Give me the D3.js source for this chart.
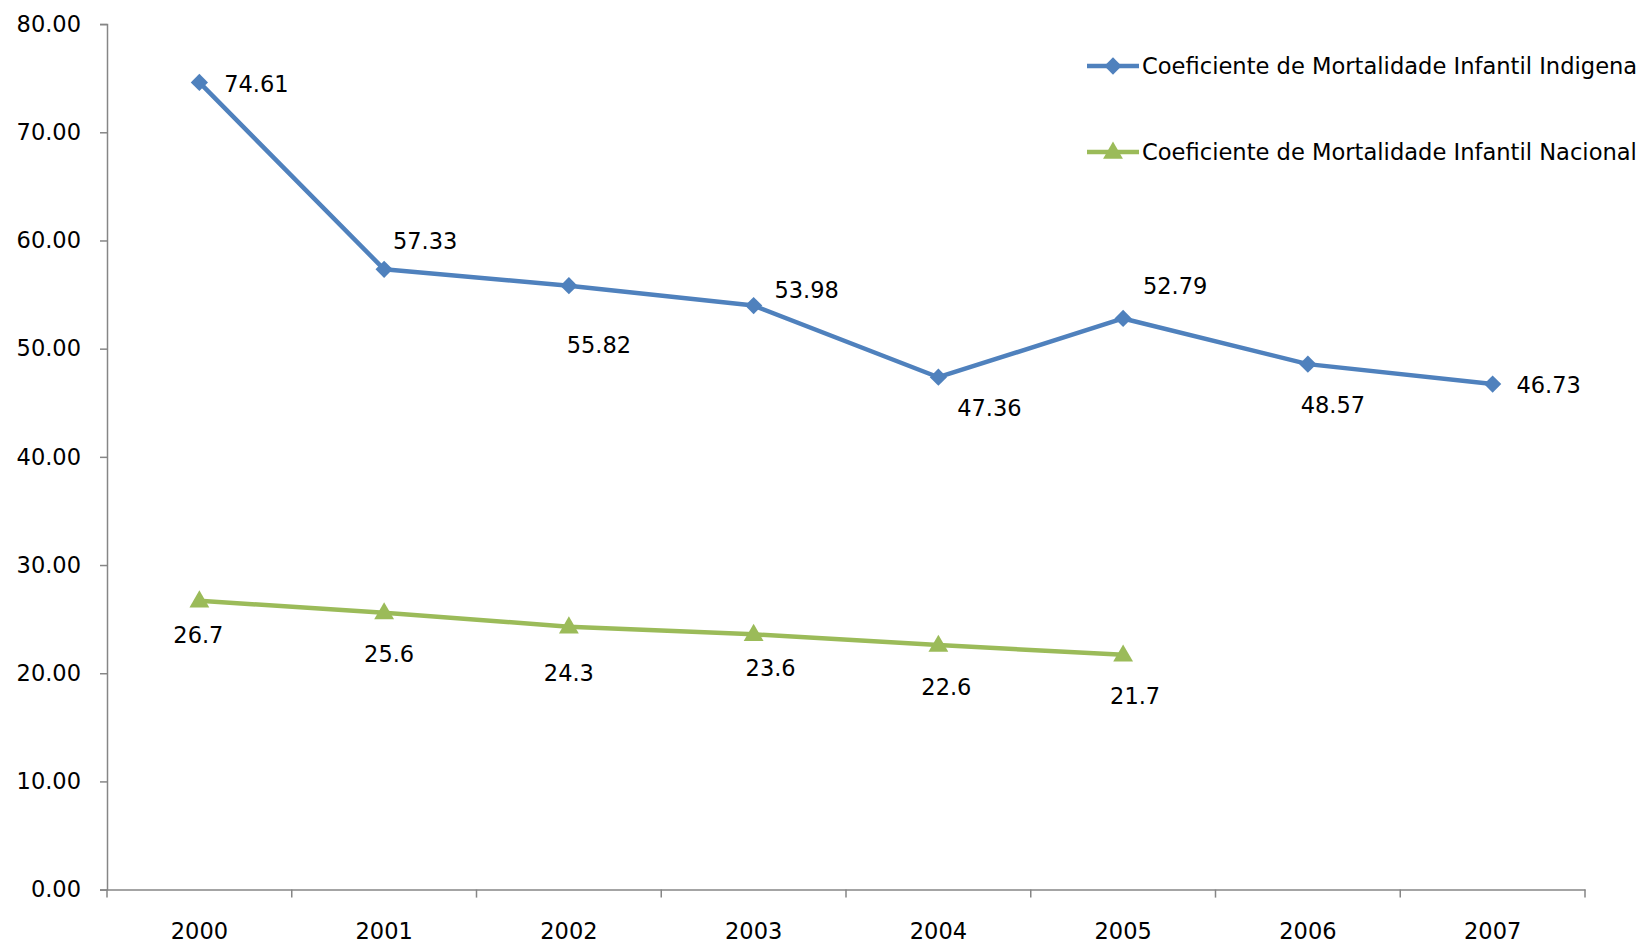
<!DOCTYPE html>
<html><head><meta charset="utf-8">
<script src="https://cdn.jsdelivr.net/npm/d3@7"></script>
<style>html,body{margin:0;padding:0;background:#fff;overflow:hidden}svg{display:block}text{font-family:"DejaVu Sans",sans-serif;fill:#000}</style>
</head><body>
<svg id="c" width="1643" height="947"></svg>
<script>
const years = ["2000","2001","2002","2003","2004","2005","2006","2007"];
const indigena = [74.61, 57.33, 55.82, 53.98, 47.36, 52.79, 48.57, 46.73];
const indigenaLabels = ["74.61","57.33","55.82","53.98","47.36","52.79","48.57","46.73"];
const nacional = [26.7, 25.6, 24.3, 23.6, 22.6, 21.7];
const nacionalLabels = ["26.7","25.6","24.3","23.6","22.6","21.7"];
const yTicks = [0,10,20,30,40,50,60,70,80];
const seriesNames = ["Coeficiente de Mortalidade Infantil Indigena","Coeficiente de Mortalidade Infantil Nacional"];

// label offsets (layout)
const indOff = [[57,2],[41,-28],[30,59],[53,-16],[51,31],[52,-32],[25,41],[56,1]];
const nacOff = [[-1,34],[5,41],[0,46],[17,34],[8,42],[12,41]];

const svg = d3.select("#c");
const L = 107, R = 1585, T = 24.1, B = 889.6;
const x = d3.scaleBand().domain(years).range([L, R]).padding(0);
const y = d3.scaleLinear().domain([0, 80]).range([B, T]);
const blue = "#4F81BD", green = "#9BBB59", axisCol = "#868686";

// y axis
const ya = svg.append("g").attr("transform", `translate(${L},0)`)
  .call(d3.axisLeft(y).tickValues(yTicks).tickFormat(d3.format(".2f")).tickSize(7).tickPadding(19));
ya.select(".domain").attr("stroke", axisCol).attr("stroke-width", 1.5);
ya.selectAll(".tick line").attr("stroke", axisCol).attr("stroke-width", 1.5);
ya.selectAll(".tick text").style("font-size", "22.5px").style("font-family", "DejaVu Sans").attr("fill", "#000");

// x axis
const xa = svg.append("g").attr("transform", `translate(0,${B})`)
  .call(d3.axisBottom(x).tickSize(0).tickPadding(33));
xa.select(".domain").attr("stroke", axisCol).attr("stroke-width", 1.5);
xa.selectAll(".tick text").style("font-size", "22.5px").style("font-family", "DejaVu Sans").attr("fill", "#000");
const bounds = years.map(d => x(d)).concat([x(years[years.length - 1]) + x.bandwidth()]);
svg.append("g").selectAll("line").data(bounds).join("line")
  .attr("x1", d => d).attr("x2", d => d).attr("y1", B).attr("y2", B + 8)
  .attr("stroke", axisCol).attr("stroke-width", 1.5);

const cx = i => x(years[i]) + x.bandwidth() / 2;
const line = d3.line().x((d, i) => cx(i)).y(d => y(d));

// series lines
svg.append("path").datum(indigena).attr("d", line).attr("fill", "none")
  .attr("stroke", blue).attr("stroke-width", 4.5).attr("stroke-linejoin", "round");
svg.append("path").datum(nacional).attr("d", line).attr("fill", "none")
  .attr("stroke", green).attr("stroke-width", 4.5).attr("stroke-linejoin", "round");

const diamond = d3.symbol().type(d3.symbolDiamond2).size(190);
const tri = d3.symbol().type(d3.symbolTriangle).size(170);

svg.append("g").selectAll("path").data(indigena).join("path")
  .attr("d", diamond).attr("fill", blue)
  .attr("transform", (d, i) => `translate(${cx(i)},${y(d)})`);
svg.append("g").selectAll("path").data(nacional).join("path")
  .attr("d", tri).attr("fill", green)
  .attr("transform", (d, i) => `translate(${cx(i)},${y(d) + 1})`);

// data labels
svg.append("g").selectAll("text").data(indigena).join("text")
  .attr("x", (d, i) => cx(i) + indOff[i][0]).attr("y", (d, i) => y(d) + indOff[i][1])
  .attr("text-anchor", "middle").attr("dominant-baseline", "central")
  .style("font-size", "22.5px").text((d, i) => indigenaLabels[i]);
svg.append("g").selectAll("text").data(nacional).join("text")
  .attr("x", (d, i) => cx(i) + nacOff[i][0]).attr("y", (d, i) => y(d) + nacOff[i][1])
  .attr("text-anchor", "middle").attr("dominant-baseline", "central")
  .style("font-size", "22.5px").text((d, i) => nacionalLabels[i]);

// legend
const lg = svg.append("g");
const legY = [66, 152];
const legCols = [blue, green];
const legSyms = [diamond, tri];
legY.forEach((ly, i) => {
  lg.append("line").attr("x1", 1087).attr("x2", 1139).attr("y1", ly).attr("y2", ly)
    .attr("stroke", legCols[i]).attr("stroke-width", 4.5);
  lg.append("path").attr("d", legSyms[i]).attr("fill", legCols[i])
    .attr("transform", `translate(1113,${ly + (i ? 1 : 0)})`);
  lg.append("text").attr("x", 1142).attr("y", ly).attr("dominant-baseline", "central")
    .style("font-size", "22.6px").text(seriesNames[i]);
});
</script>
</body></html>
